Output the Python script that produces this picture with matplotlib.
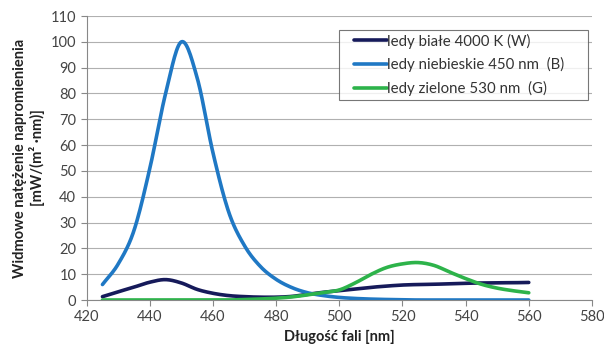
import numpy as np
import matplotlib.pyplot as plt
from matplotlib.legend_handler import HandlerLine2D

plt.rcParams['font.family'] = ['Lato', 'DejaVu Sans']

# wavelength [nm]
wl = list(range(425, 561, 5))

# spectral irradiance [mW/(m2 nm)]
white = [1.3, 3.2, 5.0, 6.9, 7.9, 6.6, 4.1, 2.6, 1.7, 1.3, 1.1, 1.1, 1.4, 2.2,
         3.0, 3.6, 4.3, 4.9, 5.4, 5.8, 6.0, 6.1, 6.3, 6.5, 6.6, 6.7, 6.7, 6.8]
blue = [6, 14, 27, 51, 80, 100, 86, 57, 34, 21, 13, 8, 4.8, 2.8,
        1.7, 1.0, 0.6, 0.35, 0.2, 0.1, 0, 0, 0, 0, 0, 0, 0, 0]
green = [0, 0, 0, 0, 0, 0, 0, 0, 0, 0.2, 0.4, 0.7, 1.2, 2.0,
         2.9, 3.9, 6.6, 9.9, 12.6, 14.0, 14.5, 13.4, 10.8, 8.3, 6.1, 4.6, 3.6, 2.8]

labels = ['ledy białe 4000 K (W)', 'ledy niebieskie 450 nm  (B)', 'ledy zielone 530 nm  (G)']
colors = ['#161a5a', '#1f78c4', '#2db34a']


def smooth(x, y, n=16):
    # Catmull-Rom curve through the points, like Excel's smoothed line
    x = np.asarray(x, float)
    y = np.asarray(y, float)
    px = np.concatenate([[2 * x[0] - x[1]], x, [2 * x[-1] - x[-2]]])
    py = np.concatenate([[2 * y[0] - y[1]], y, [2 * y[-1] - y[-2]]])
    t = np.linspace(0, 1, n, endpoint=False)
    xs, ys = [], []
    for i in range(1, len(px) - 2):
        for arr, out in ((px, xs), (py, ys)):
            p0, p1, p2, p3 = arr[i - 1], arr[i], arr[i + 1], arr[i + 2]
            out.extend(0.5 * (2 * p1 + (-p0 + p2) * t + (2 * p0 - 5 * p1 + 4 * p2 - p3) * t ** 2
                              + (-p0 + 3 * p1 - 3 * p2 + p3) * t ** 3))
    xs.append(x[-1])
    ys.append(y[-1])
    return np.array(xs), np.clip(ys, 0, None)


fig = plt.figure(figsize=(6.04, 3.52), dpi=100)
ax = fig.add_axes([0.1435, 0.1477, 0.8365, 0.8068])

for ys, lab, c in zip([white, blue, green], labels, colors):
    sx, sy = smooth(wl, ys)
    ax.plot(sx, sy, color=c, lw=2.6, label=lab, solid_capstyle='round')

ax.set_xlim(420, 580)
ax.set_ylim(0, 110)
ax.set_xticks(range(420, 581, 20))
ax.set_yticks(range(0, 111, 10))
ax.yaxis.grid(True, color='#b0b0b0', lw=0.8)
ax.set_axisbelow(True)
for s in ['top', 'right']:
    ax.spines[s].set_visible(False)
for s in ['left', 'bottom']:
    ax.spines[s].set_color('#888888')
ax.tick_params(colors='#888888', labelcolor='#444444', labelsize=10.5, length=4)

ax.set_xlabel('Długość fali [nm]', fontsize=10.5, fontweight='bold', color='#222222')
ax.set_ylabel('Widmowe natężenie napromienienia\n[mW/(m² ·nm)]', fontsize=10.5,
              fontweight='bold', color='#222222', linespacing=1.2)

leg = ax.legend(loc='upper left', bbox_to_anchor=(0.5, 0.698, 0.493, 0.253), mode='expand',
                fontsize=10.8, frameon=True, fancybox=False, edgecolor='#555555',
                handlelength=2.9, handletextpad=0.0, labelspacing=0.57, borderpad=0.25,
                borderaxespad=0, handler_map={plt.Line2D: HandlerLine2D(xpad=0.7)})
leg.get_frame().set_linewidth(0.8)
for t in leg.get_texts():
    t.set_color('#333333')

fig.savefig('out.png', dpi=100)
